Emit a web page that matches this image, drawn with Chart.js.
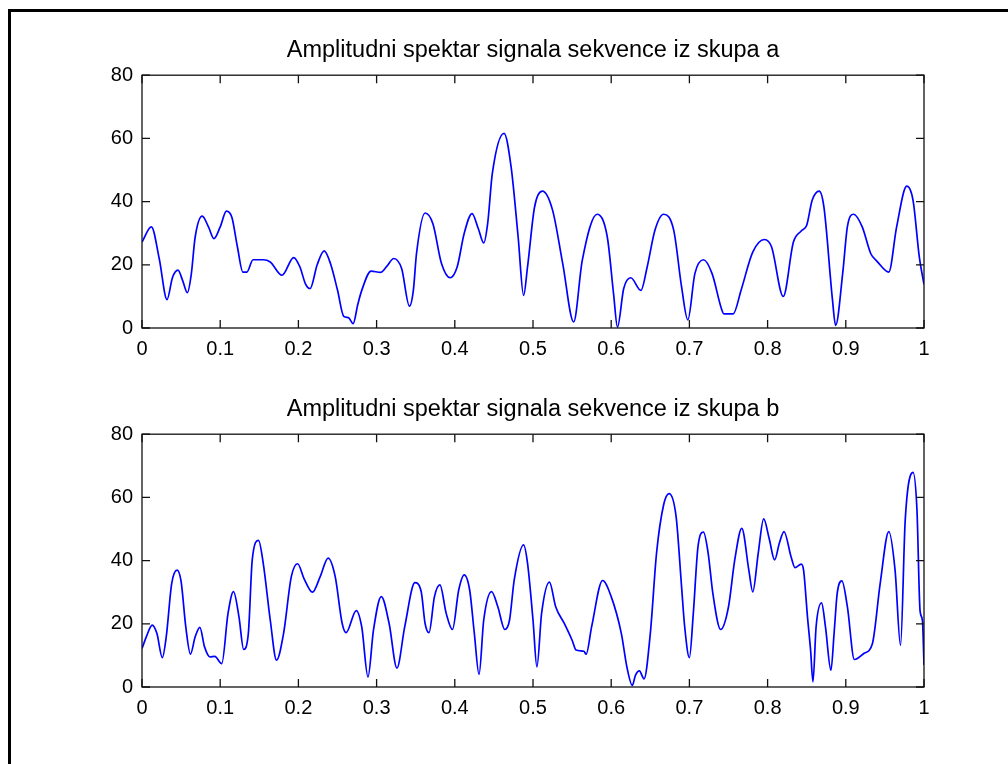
<!DOCTYPE html>
<html>
<head>
<meta charset="utf-8">
<script src="https://cdn.jsdelivr.net/npm/chart.js@4.4.1/dist/chart.umd.min.js"></script>
<style>
html,body{margin:0;padding:0;background:#fff;overflow:hidden;}
body{width:1008px;height:764px;position:relative;}
#okvir{position:absolute;left:8px;top:9px;width:1100px;height:900px;border-left:3px solid #000;border-top:3px solid #000;}
canvas{position:absolute;left:0;}
#grafikA{top:0;}
#grafikB{top:359px;}
</style>
</head>
<body>
<div id="okvir"></div>
<canvas id="grafikA" width="1008" height="380"></canvas>
<canvas id="grafikB" width="1008" height="380"></canvas>
<script>
// ocitane vrijednosti sa slike
const frekvA=[0,0.012,0.022,0.032,0.039,0.046,0.052,0.058,0.063,0.068,0.077,0.085,0.092,0.1,0.108,0.115,0.122,0.129,0.134,0.142,
  0.155,0.164,0.179,0.194,0.202,0.209,0.215,0.224,0.233,0.241,0.25,0.258,0.264,0.27,0.276,0.281,0.293,0.305,0.313,0.322,
  0.332,0.342,0.347,0.351,0.362,0.372,0.383,0.394,0.403,0.412,0.422,0.43,0.437,0.442,0.448,0.463,0.472,0.481,0.488,0.493,
  0.502,0.512,0.525,0.538,0.552,0.563,0.582,0.595,0.603,0.608,0.616,0.625,0.638,0.646,0.656,0.667,0.68,0.69,0.698,0.707,
  0.718,0.729,0.741,0.744,0.756,0.766,0.781,0.796,0.805,0.82,0.833,0.843,0.85,0.857,0.866,0.872,0.883,0.887,0.896,0.902,
  0.91,0.921,0.932,0.94,0.955,0.965,0.978,0.986,0.994,1];
const amplA=[27.2,32,22,9,16,18.3,15,11.2,17,28.8,35.4,32,28.3,32,37,35,25.7,17.7,17.7,21.6,
  21.6,20.9,16.7,22.3,19.3,14,12.5,20,24.4,20.4,12,3.7,3.3,1.4,7.5,11.9,18,17.6,19.5,22,
  18.8,6.9,11.9,23.5,36.4,33,20.4,15.9,19.3,29.9,36.2,31.5,26.9,33,48.9,61.6,51,28.8,10.3,19.3,
  38.3,43.3,37.3,20.4,1.9,21.4,36,28.8,10.9,0.3,12.5,15.9,11.9,19.3,31,36,30.9,13,2.6,17.2,
  21.6,17.2,6.1,4.5,4.5,11.9,24,28,25.7,10,27.2,30.7,32.5,40.4,43.3,38.3,8.8,0.8,17.2,32,
  36,32,23.5,21.1,17.7,32,44.9,40.4,22.5,13.8];

const frekvB=[0,0.006,0.013,0.019,0.026,0.031,0.038,0.045,0.05,0.056,0.062,0.068,0.074,0.08,0.087,0.093,0.102,0.11,0.117,0.124,
  0.13,0.136,0.141,0.149,0.155,0.164,0.172,0.181,0.191,0.199,0.207,0.218,0.228,0.238,0.247,0.256,0.261,0.274,0.281,0.289,
  0.296,0.306,0.316,0.326,0.336,0.349,0.357,0.362,0.367,0.374,0.381,0.389,0.397,0.405,0.412,0.419,0.425,0.431,0.437,0.447,
  0.455,0.464,0.47,0.476,0.488,0.493,0.5,0.505,0.511,0.521,0.529,0.54,0.55,0.555,0.565,0.568,0.575,0.589,0.6,0.613,
  0.62,0.627,0.631,0.636,0.642,0.65,0.658,0.667,0.674,0.683,0.69,0.694,0.7,0.705,0.711,0.718,0.724,0.73,0.74,0.75,
  0.758,0.767,0.776,0.781,0.788,0.795,0.802,0.809,0.815,0.821,0.83,0.835,0.843,0.846,0.851,0.855,0.858,0.862,0.869,0.874,
  0.881,0.885,0.889,0.895,0.902,0.911,0.923,0.934,0.944,0.955,0.963,0.97,0.976,0.986,0.991,0.995,0.998,1];
const amplB=[12.2,16.2,19.6,17,9.3,15.9,32.8,37,33.4,19,10.4,15.9,18.9,12.7,9.5,9.7,7.4,23.3,30.2,22.2,
  11.9,17,40.3,46.4,39.2,21.2,8.5,16.9,35,39,34.4,30,35,40.8,35,20.1,17.2,24.2,19,3.2,
  18,28.6,20.1,6,19.1,33,30.2,20.1,17.2,28.6,32.3,23.3,18.2,30.7,35.5,30.7,16.9,4,21.2,30.2,
  25.4,18.2,21.2,33.9,45,39.2,21.2,6.4,23.3,33.2,25.4,20.1,14.8,11.7,11.3,10.4,19.1,33.7,28.6,16.9,
  6.4,0.5,3.7,5.1,2.6,16.9,42.4,57.6,61.2,53.9,31.7,19,9.3,23.3,44.4,49,42.3,29.6,18.2,25.4,
  40.2,50.2,37,30.1,42.3,53.2,47,40.2,45.5,49.2,41.2,37.8,38.9,37,22.2,11.6,1.6,19,26.6,19,
  5.3,16.9,29.6,33.6,25.4,8.7,10.6,13.7,32.8,49.2,37,13.2,52.9,67.9,56,24,21,7];

const xOznake=['0','0.1','0.2','0.3','0.4','0.5','0.6','0.7','0.8','0.9','1'];
const yOznake=['0','20','40','60','80'];

const font='"Liberation Sans", Arial, sans-serif';

// okvir osa i crtice prema unutra, kao u matlabu
const okvirPlugin={
  id:'okvir',
  afterDraw(chart){
    const {ctx,chartArea:a,scales:{x,y}}=chart;
    ctx.save();
    ctx.strokeStyle='#111';
    ctx.lineWidth=1.3;
    ctx.strokeRect(a.left,a.top,a.right-a.left,a.bottom-a.top);
    ctx.beginPath();
    x.ticks.forEach(t=>{
      const px=x.getPixelForValue(t.value);
      ctx.moveTo(px,a.bottom);ctx.lineTo(px,a.bottom-8);
      ctx.moveTo(px,a.top);ctx.lineTo(px,a.top+8);
    });
    y.ticks.forEach(t=>{
      const py=y.getPixelForValue(t.value);
      ctx.moveTo(a.left,py);ctx.lineTo(a.left+8,py);
      ctx.moveTo(a.right,py);ctx.lineTo(a.right-8,py);
    });
    ctx.stroke();
    ctx.restore();
  }
};

function napraviGrafik(id,naslov,frekv,ampl){
  const tacke=frekv.map((f,i)=>({x:f,y:ampl[i]}));
  return new Chart(document.getElementById(id),{
    type:'line',
    data:{datasets:[{
      data:tacke,
      borderColor:'#0000ff',
      borderWidth:1.7,
      pointRadius:0,
      fill:false,
      cubicInterpolationMode:'monotone'
    }]},
    options:{
      responsive:false,
      animation:false,
      devicePixelRatio:1,
      layout:{padding:{left:0,right:84,top:0,bottom:0}},
      plugins:{
        legend:{display:false},
        tooltip:{enabled:false},
        title:{
          display:true,
          fullSize:false,
          text:naslov,
          color:'#000',
          font:{family:font,size:23.5,weight:'normal'},
          padding:{top:36,bottom:11}
        }
      },
      scales:{
        x:{
          type:'linear',min:0,max:1,
          grid:{display:false,drawTicks:false},
          border:{display:false},
          ticks:{stepSize:0.1,padding:9,color:'#000',maxRotation:0,autoSkip:false,
            font:{family:font,size:20},
            callback:v=>xOznake[Math.round(v*10)]},
          afterFit:s=>{s.height=52;}
        },
        y:{
          min:0,max:80,
          grid:{display:false,drawTicks:false},
          border:{display:false},
          ticks:{stepSize:20,padding:9,color:'#000',
            font:{family:font,size:20},
            callback:v=>yOznake[Math.round(v/20)]},
          afterFit:s=>{s.width=142;}
        }
      }
    },
    plugins:[okvirPlugin]
  });
}

napraviGrafik('grafikA','Amplitudni spektar signala sekvence iz skupa a',frekvA,amplA);
napraviGrafik('grafikB','Amplitudni spektar signala sekvence iz skupa b',frekvB,amplB);
</script>
</body>
</html>
